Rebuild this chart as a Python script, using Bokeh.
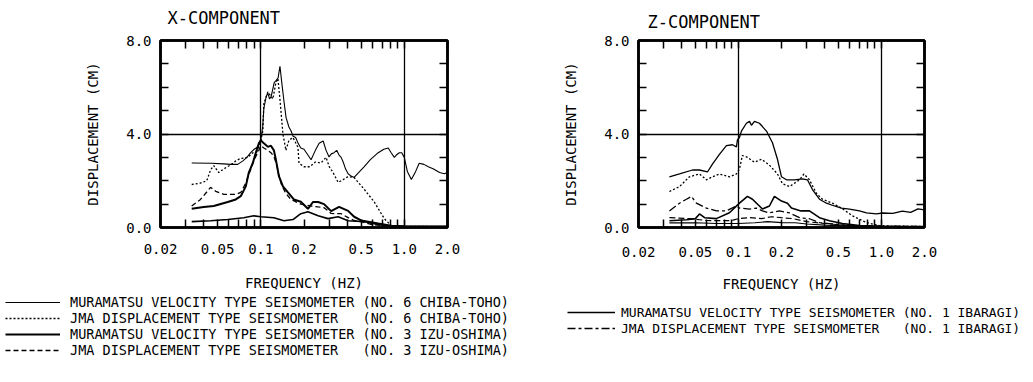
from bokeh.plotting import figure
from bokeh.models import (Range1d, FixedTicker, LinearAxis, LogAxis, Legend, Label,
                          LegendItem, PrintfTickFormatter, CustomJSTickFormatter)
from bokeh.layouts import row, column
from bokeh.embed import file_html
from bokeh.resources import INLINE

FONT = "DejaVu Sans Mono"

# ---------------- axes ----------------
x_tick_values = [0.02, 0.05, 0.1, 0.2, 0.5, 1.0, 2.0]
x_tick_labels = ["0.02", "0.05", "0.1", "0.2", "0.5", "1.0", "2.0"]
x_minor_ticks = [0.03, 0.04, 0.06, 0.07, 0.08, 0.09, 0.3, 0.4, 0.6, 0.7, 0.8, 0.9]
y_tick_values = [0, 4, 8]
y_minor_ticks = [1, 2, 3, 5, 6, 7]
x_grid_values = [0.1, 1.0]
y_grid_values = [4.0]

# ---------------- X-COMPONENT data ----------------
xa_f = [0.033, 0.045, 0.055, 0.062, 0.069, 0.075, 0.08, 0.085, 0.09, 0.095, 0.1, 0.103, 0.105,
        0.109, 0.112, 0.115, 0.118, 0.121, 0.124, 0.128, 0.132, 0.136, 0.14, 0.145, 0.15, 0.157,
        0.162, 0.168, 0.175, 0.182, 0.19, 0.2, 0.213, 0.224, 0.24, 0.255, 0.272, 0.285, 0.299,
        0.31, 0.324, 0.338, 0.351, 0.363, 0.375, 0.39, 0.406, 0.426, 0.447, 0.48, 0.526, 0.58,
        0.658, 0.72, 0.773, 0.81, 0.852, 0.88, 0.923, 0.96, 1.0, 1.05, 1.12, 1.2, 1.27, 1.37,
        1.47, 1.6, 1.76, 1.9, 2.0]
xa_v = [2.76, 2.75, 2.72, 2.70, 2.70, 2.85, 3.0, 3.2, 3.35, 3.45, 3.75, 4.3, 5.1,
        5.6, 5.75, 5.5, 5.6, 5.9, 6.2, 6.3, 6.4, 6.9, 6.2, 5.4, 4.7, 4.3,
        4.15, 3.9, 3.85, 3.6, 3.4, 3.35, 3.1, 2.9, 3.3, 3.6, 3.7, 3.3, 3.02,
        3.15, 3.2, 3.3, 3.1, 3.0, 2.8, 2.5, 2.3, 2.2, 2.14, 2.35, 2.6, 2.9,
        3.2, 3.35, 3.4, 3.2, 3.0, 3.1, 3.2, 3.2, 3.0, 2.4, 2.05, 2.4, 2.75, 2.7,
        2.6, 2.5, 2.35, 2.3, 2.35]

xb_f = [0.033, 0.038, 0.042, 0.0447, 0.047, 0.0509, 0.055, 0.0617, 0.067, 0.072, 0.0812, 0.088,
        0.092, 0.1, 0.1034, 0.105, 0.112, 0.1214, 0.1274, 0.1316, 0.1359, 0.1426, 0.1497, 0.157,
        0.1675, 0.1816, 0.1845, 0.2, 0.22, 0.24, 0.263, 0.285, 0.3, 0.319, 0.346, 0.375, 0.406,
        0.447, 0.526, 0.618, 0.725, 0.81, 0.9, 1.0, 1.2, 1.5, 2.0]
xb_v = [1.84, 1.9, 2.0, 2.47, 2.65, 2.35, 2.5, 2.68, 2.85, 2.95, 3.0, 3.2,
        3.1, 3.7, 4.15, 5.3, 5.8, 5.5, 6.2, 6.37, 5.5, 4.0, 3.3, 3.73,
        3.85, 3.43, 2.75, 2.6, 2.6, 2.8, 2.76, 3.0, 2.6, 2.35, 1.93, 2.05, 2.18,
        2.14, 1.63, 1.09, 0.38, 0.08, 0.05, 0.05, 0.05, 0.04, 0.04]

xc_f = [0.033, 0.04, 0.047, 0.0588, 0.0669, 0.0725, 0.0786, 0.0825, 0.088, 0.0923, 0.0969, 0.1,
        0.105, 0.112, 0.1176, 0.1234, 0.1274, 0.1337, 0.1426, 0.1546, 0.17, 0.19, 0.213, 0.231,
        0.251, 0.276, 0.309, 0.351, 0.406, 0.447, 0.5, 0.658, 0.81, 1.0, 1.5, 2.0]
xc_v = [0.8, 0.88, 0.92, 1.09, 1.2, 1.34, 1.76, 2.35, 2.76, 3.2, 3.6, 3.73,
        3.6, 3.45, 3.5, 3.3, 2.9, 2.2, 1.76, 1.5, 1.2, 1.1, 0.8, 1.09,
        1.09, 1.0, 0.7, 0.88, 0.71, 0.46, 0.3, 0.17, 0.08, 0.05, 0.04, 0.04]

xd_f = [0.033, 0.038, 0.0447, 0.0485, 0.0552, 0.0588, 0.0669, 0.0725, 0.0786, 0.0852, 0.09,
        0.0969, 0.1, 0.105, 0.112, 0.1176, 0.1234, 0.13, 0.1337, 0.14, 0.1497, 0.162, 0.1906,
        0.224, 0.251, 0.276, 0.309, 0.363, 0.406, 0.447, 0.501, 0.6, 0.8, 1.0, 1.5, 2.0]
xd_v = [0.92, 1.2, 1.72, 1.55, 1.42, 1.42, 1.42, 1.5, 1.9, 2.5, 2.9,
        3.3, 3.5, 3.4, 3.3, 3.2, 3.05, 2.6, 2.2, 1.8, 1.45, 1.2, 1.0,
        0.92, 0.88, 0.85, 0.6, 0.59, 0.42, 0.3, 0.25, 0.12, 0.06, 0.04, 0.03, 0.03]

xe_f = [0.033, 0.0447, 0.0588, 0.0761, 0.0894, 0.1, 0.1234, 0.145, 0.1675, 0.19, 0.213, 0.251,
        0.294, 0.346, 0.406, 0.526, 0.725, 0.9, 1.2, 1.6, 2.0]
xe_v = [0.25, 0.29, 0.34, 0.42, 0.5, 0.46, 0.42, 0.29, 0.34, 0.59, 0.67, 0.5,
        0.38, 0.46, 0.29, 0.25, 0.08, 0.05, 0.04, 0.04, 0.04]

# ---------------- Z-COMPONENT data ----------------
z1_f = [0.0329, 0.0387, 0.0477, 0.0534, 0.0607, 0.0658, 0.0736, 0.0824, 0.0908, 0.0968, 0.0984,
        0.1016, 0.1049, 0.1137, 0.1194, 0.1233, 0.1294, 0.1402, 0.157, 0.1729, 0.1874, 0.2,
        0.2167, 0.2464, 0.2803, 0.3037, 0.3293, 0.3686, 0.4124, 0.4693, 0.5252, 0.5973, 0.7017,
        0.7855, 0.9227, 1.016, 1.2, 1.4, 1.6, 1.8, 2.0]
z1_v = [2.17, 2.29, 2.46, 2.46, 2.375, 2.71, 3.125, 3.5, 3.54, 3.45, 3.75,
        3.85, 4.125, 4.46, 4.54, 4.375, 4.54, 4.46, 4.125, 3.625, 2.92, 2.17,
        2.04, 2.04, 2.08, 2.04, 1.625, 1.21, 1.04, 0.92, 0.83, 0.79, 0.71,
        0.625, 0.58, 0.62, 0.6, 0.7, 0.65, 0.8, 0.75]

z2_f = [0.0329, 0.0387, 0.0454, 0.0534, 0.0597, 0.0658, 0.0736, 0.0865, 0.0968, 0.1016, 0.1066,
        0.1156, 0.1294, 0.1448, 0.1647, 0.1874, 0.2032, 0.2274, 0.2671, 0.2873, 0.3137, 0.3511,
        0.3868, 0.4544, 0.5252, 0.6268, 0.7855, 0.9683, 1.2, 1.6, 2.0]
z2_v = [1.54, 1.75, 2.17, 2.29, 2.04, 2.17, 2.29, 2.17, 2.29, 2.5, 3.08,
        3.0, 2.79, 2.92, 2.67, 2.29, 1.875, 1.75, 2.04, 2.29, 2.04, 1.46,
        1.21, 1.04, 0.83, 0.5, 0.21, 0.08, 0.06, 0.05, 0.05]

z3_f = [0.0329, 0.0387, 0.0433, 0.0469, 0.0508, 0.0597, 0.0702, 0.0824, 0.0968, 0.1016, 0.1194,
        0.1337, 0.1472, 0.1647, 0.1935, 0.2274, 0.2671, 0.3137, 0.3686, 0.4329, 0.55, 0.7, 1.0,
        1.5, 2.0]
z3_v = [0.71, 1.04, 1.21, 1.33, 1.04, 0.83, 0.71, 0.71, 0.92, 0.83, 0.79,
        0.83, 0.71, 0.625, 0.71, 0.625, 0.42, 0.375, 0.21, 0.17, 0.1, 0.06, 0.05,
        0.04, 0.04]

z4_f = [0.0329, 0.0434, 0.05, 0.0534, 0.058, 0.07, 0.0865, 0.1016, 0.1156, 0.1253, 0.1472,
        0.1647, 0.1785, 0.2, 0.2203, 0.2347, 0.2736, 0.3137, 0.3686, 0.4329, 0.5337, 0.7017,
        1.0, 1.5, 2.0]
z4_v = [0.29, 0.33, 0.38, 0.58, 0.42, 0.38, 0.63, 1.04, 1.33, 1.21, 0.79,
        0.92, 1.33, 1.13, 1.04, 0.83, 0.71, 0.71, 0.42, 0.29, 0.17, 0.08,
        0.05, 0.04, 0.04]

z5_f = [0.0329, 0.045, 0.06, 0.075, 0.09, 0.1, 0.12, 0.145, 0.17, 0.2, 0.24, 0.3, 0.4, 0.5,
        0.7, 1.0, 1.5, 2.0]
z5_v = [0.42, 0.38, 0.3, 0.29, 0.3, 0.38, 0.42, 0.38, 0.46, 0.42, 0.38, 0.25, 0.17, 0.12,
        0.08, 0.05, 0.05, 0.04]

z6_f = [0.0329, 0.05, 0.07, 0.1, 0.13, 0.16, 0.2, 0.25, 0.3, 0.4, 0.5, 0.7, 1.0, 2.0]
z6_v = [0.2, 0.2, 0.17, 0.17, 0.2, 0.25, 0.21, 0.2, 0.15, 0.1, 0.08, 0.05, 0.04, 0.04]

# ---------------- texts ----------------
titles = ["X-COMPONENT", "Z-COMPONENT"]
NB = "\u00a0"
mura = "MURAMATSU VELOCITY TYPE SEISMOMETER"
jma = "JMA DISPLACEMENT TYPE SEISMOMETER"
x_legend_labels = [
    mura + NB + "(NO." + NB + "6" + NB + "CHIBA-TOHO)",
    jma + NB * 3 + "(NO." + NB + "6" + NB + "CHIBA-TOHO)",
    mura + NB + "(NO." + NB + "3" + NB + "IZU-OSHIMA)",
    jma + NB * 3 + "(NO." + NB + "3" + NB + "IZU-OSHIMA)",
]
z_legend_labels = [
    mura + NB + "(NO." + NB + "1" + NB + "IBARAGI)",
    jma + NB * 3 + "(NO." + NB + "1" + NB + "IBARAGI)",
]

# line styles: (width, dash)
x_styles = [(1.1, "solid"), (1.3, "2 2"), (2.0, "solid"), (1.3, "5 3"), (1.6, "solid")]
z_styles = [(1.3, "solid"), (1.3, "2 2"), (1.3, "8 3 3 3"), (1.6, "solid"), (1.2, "6 3"), (1.1, "solid")]

TITLE_H = 32
PANEL_BOTTOM = 294
PANEL_H = PANEL_BOTTOM - TITLE_H


def strip(width, height):
    s = figure(width=width, height=height, x_range=Range1d(0, 1), y_range=Range1d(0, 1),
               output_backend="svg", toolbar_location=None,
               x_axis_location=None, y_axis_location=None,
               min_border_left=0, min_border_right=0, min_border_top=0, min_border_bottom=0,
               background_fill_color="white", border_fill_color="white", outline_line_color=None)
    s.xgrid.visible = False
    s.ygrid.visible = False
    return s


def make_panel(width, bl, br, bt, bb, lab_standoff, axlab_standoff):
    p = figure(width=width, height=PANEL_H, x_axis_type="log",
               x_range=Range1d(0.02, 2.0), y_range=Range1d(0, 8),
               output_backend="svg", toolbar_location=None,
               min_border_left=bl, min_border_right=br,
               min_border_top=bt, min_border_bottom=bb,
               background_fill_color="white", border_fill_color="white",
               outline_line_color="black", outline_line_width=2.5,
               x_axis_label="FREQUENCY (HZ)", y_axis_label="DISPLACEMENT (CM)")

    xfmt = CustomJSTickFormatter(args=dict(vals=x_tick_values, labs=x_tick_labels), code="""
        const i = vals.findIndex(v => Math.abs(v - tick) < 1e-9 * Math.max(1, v));
        return i >= 0 ? labs[i] : '';
    """)
    blank = CustomJSTickFormatter(code="return '';")

    xa = p.xaxis[0]
    xa.ticker = FixedTicker(ticks=x_tick_values, minor_ticks=x_minor_ticks)
    xa.formatter = xfmt
    xa.major_label_standoff = lab_standoff
    xa.axis_label_standoff = axlab_standoff
    ya = p.yaxis[0]
    ya.ticker = FixedTicker(ticks=y_tick_values, minor_ticks=y_minor_ticks)
    ya.formatter = PrintfTickFormatter(format="%.1f")
    ya.major_label_standoff = 9
    ya.axis_label_standoff = 22

    top = LogAxis(ticker=FixedTicker(ticks=x_tick_values, minor_ticks=x_minor_ticks), formatter=blank)
    right = LinearAxis(ticker=FixedTicker(ticks=y_tick_values, minor_ticks=y_minor_ticks), formatter=blank)
    p.add_layout(top, "above")
    p.add_layout(right, "right")

    for ax in [xa, ya, top, right]:
        ax.axis_line_color = "black"
        ax.axis_line_width = 2.5
        ax.major_tick_in = 8
        ax.major_tick_out = 0
        ax.minor_tick_in = 8
        ax.minor_tick_out = 0
        ax.major_tick_line_width = 1.5
        ax.minor_tick_line_width = 1.5
        ax.major_tick_line_color = "black"
        ax.minor_tick_line_color = "black"
        ax.major_label_text_font = FONT
        ax.major_label_text_font_size = "14px"
        ax.major_label_text_color = "black"
        ax.axis_label_text_font = FONT
        ax.axis_label_text_font_size = "14px"
        ax.axis_label_text_font_style = "normal"
        ax.axis_label_text_color = "black"
    for ax in [top, right]:
        ax.major_label_text_font_size = "0px"
        ax.major_label_standoff = 0

    p.xgrid.ticker = FixedTicker(ticks=x_grid_values)
    p.ygrid.ticker = FixedTicker(ticks=y_grid_values)
    for g in [p.xgrid[0], p.ygrid[0]]:
        g.grid_line_color = "black"
        g.grid_line_width = 1.3
        g.grid_line_alpha = 1.0
    return p


def draw(p, fs, vs, style):
    w, d = style
    return p.line(fs, vs, line_color="black", line_width=w, line_dash=d)


# ---------------- title strip ----------------
pT = strip(1033, TITLE_H)
for t, tx, ty in zip(titles, [167, 647], [17, 21]):
    pT.add_layout(Label(x=tx, y=TITLE_H - ty, x_units="screen", y_units="screen", text=t,
                        text_font=FONT, text_font_size="17px", text_color="black",
                        text_baseline="middle", text_align="left"))

# ---------------- left panel ----------------
pX = make_panel(516, 160, 69, 38 - TITLE_H, PANEL_BOTTOM - 229, 16, 18)
for fs, vs, st in zip([xa_f, xb_f, xc_f, xd_f, xe_f], [xa_v, xb_v, xc_v, xd_v, xe_v], x_styles):
    draw(pX, fs, vs, st)

# ---------------- right panel ----------------
pZ = make_panel(517, 122, 109, 40 - TITLE_H, PANEL_BOTTOM - 232, 19, 16)
for fs, vs, st in zip([z1_f, z2_f, z3_f, z4_f, z5_f, z6_f], [z1_v, z2_v, z3_v, z4_v, z5_v, z6_v], z_styles):
    draw(pZ, fs, vs, st)

# ---------------- legend strip below both panels ----------------
pL = strip(1033, 382 - PANEL_BOTTOM)
# legend keys: lines placed outside the visible range of the strip, used only as key samples
key_x = [-5, -4]
key_y = [-5, -4]
x_keys = [draw(pL, key_x, key_y, st) for st in x_styles[:4]]
z_keys = [draw(pL, key_x, key_y, st) for st in [z_styles[0], z_styles[2]]]

common = dict(orientation="vertical", spacing=0, padding=0, margin=0, border_line_color=None,
              background_fill_alpha=0, label_text_font=FONT, label_text_color="black",
              label_text_baseline="middle")
legX = Legend(items=[LegendItem(label=l, renderers=[r]) for l, r in zip(x_legend_labels, x_keys)],
              location=(5, 24), glyph_width=55, glyph_height=16, label_height=16,
              label_standoff=10, label_text_font_size="13.5px", **common)
legZ = Legend(items=[LegendItem(label=l, renderers=[r]) for l, r in zip(z_legend_labels, z_keys)],
              location=(567, 46), glyph_width=48, glyph_height=16, label_height=16,
              label_standoff=6, label_text_font_size="13px", **common)
pL.add_layout(legX)
pL.add_layout(legZ)

layout = column(pT, row(pX, pZ), pL)
open("out.html", "w").write(file_html(layout, INLINE))
